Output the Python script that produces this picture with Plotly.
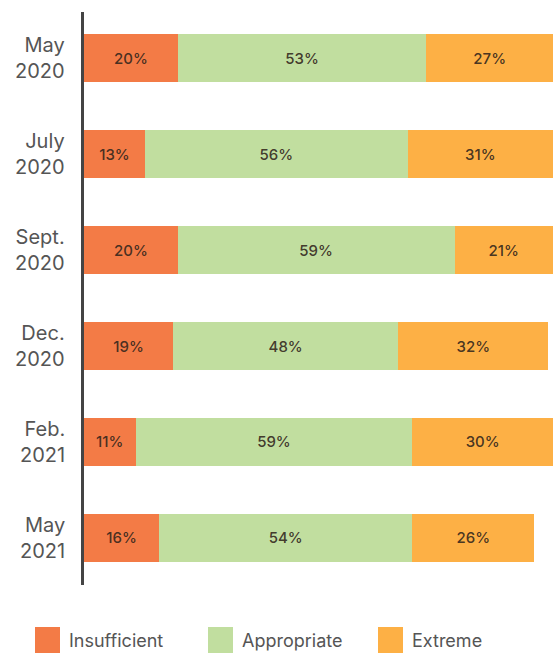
import plotly.graph_objects as go

# Survey waves and the share of responses in each category (%)
periods = ["May<br>2020", "July<br>2020", "Sept.<br>2020", "Dec.<br>2020", "Feb.<br>2021", "May<br>2021"]
insufficient = [20, 13, 20, 19, 11, 16]
appropriate = [53, 56, 59, 48, 59, 54]
extreme = [27, 31, 21, 32, 30, 26]

series = [
    ("Insufficient", insufficient, "#F37B46"),
    ("Appropriate", appropriate, "#C1DE9F"),
    ("Extreme", extreme, "#FDB045"),
]

FONT = "Inter, Roboto, sans-serif"

fig = go.Figure()
for name, vals, color in series:
    fig.add_trace(go.Bar(
        y=periods, x=vals, name=name, orientation="h",
        marker=dict(color=color, line=dict(width=0)),
        text=[f"{v}%" for v in vals], textposition="inside",
        insidetextanchor="middle",
        textfont=dict(family=FONT, size=15, weight=500, color="rgba(50,38,28,0.9)"),
        showlegend=False,
    ))

# Right-aligned period labels beside the axis line
for p in periods:
    fig.add_annotation(xref="paper", yref="y", x=0, y=p, xshift=-17,
                       text=p, showarrow=False, xanchor="right", yanchor="middle",
                       align="right",
                       font=dict(family=FONT, size=20, color="#555555"))

# Custom legend: large swatches with labels underneath the chart
legend_items = [("Insufficient", "#F37B46", 35), ("Appropriate", "#C1DE9F", 208), ("Extreme", "#FDB045", 378)]
for label, color, x0 in legend_items:
    fig.add_shape(type="rect", xref="paper", yref="paper",
                  x0=(x0 - 84) / 469, x1=(x0 + 25 - 84) / 469,
                  y0=-(653 - 585) / 573, y1=-(627 - 585) / 573,
                  fillcolor=color, line=dict(width=0))
    fig.add_annotation(xref="paper", yref="paper",
                       x=(x0 + 32 - 84) / 469, y=-(640 - 585) / 573,
                       text=label, showarrow=False, xanchor="left", yanchor="middle",
                       font=dict(family=FONT, size=18, color="#555555"))

fig.update_layout(
    barmode="stack",
    bargap=0.5,
    width=553, height=657,
    margin=dict(l=84, r=0, t=12, b=72),
    plot_bgcolor="white", paper_bgcolor="white",
    font=dict(family=FONT, color="#555555"),
    uniformtext=dict(mode="show", minsize=10),
)
fig.update_xaxes(range=[0, 100], showgrid=False, zeroline=False, showticklabels=False, showline=False)
fig.update_yaxes(
    categoryorder="array", categoryarray=periods,
    range=[5.49, -0.48], showgrid=False, zeroline=False,
    showline=True, linecolor="#444444", linewidth=2.5,
    ticks="", showticklabels=False,
)

fig.write_html("out.html")
